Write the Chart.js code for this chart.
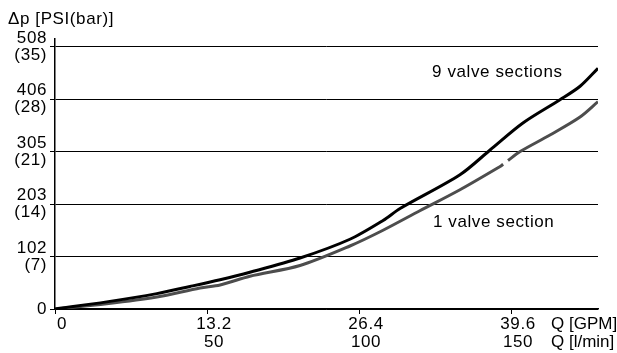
<!DOCTYPE html>
<html lang="en">
<head>
    <meta charset="UTF-8">
    <title>Pressure drop vs flow</title>
    <script src="https://cdn.jsdelivr.net/npm/chart.js@4.4.1/dist/chart.umd.min.js"></script>
</head>
<style>
    body { margin: 0; background: #fff; }
    #wrap { width: 617px; height: 353px; position: relative; }
</style>
<body>
    <div id="wrap"><canvas id="chart"></canvas></div>
</body>
<script>
    // flow in l/min, pressure drop in bar
    const nineQ   = [0, 17, 33.5, 44.4, 54.3, 64.1, 80.6, 97, 107.9, 113.5, 133.2, 143.1, 153.9, 166.1, 172.7, 178.6];
    const nineBar = [0, 0.95, 2.05, 3.0, 3.9, 4.9, 6.8, 9.3, 11.8, 13.4, 17.9, 21.2, 24.8, 27.9, 29.7, 32.1];

    // the 1-section curve has a small break near 148 l/min (null = gap)
    const oneQ   = [0, 17, 33.5, 47.7, 54.3, 64.1, 80.6, 97, 107.9, 120, 133.2, 146.4, 147.4, 148, 149, 153, 162.8, 172.7, 178.6];
    const oneBar = [0, 0.7, 1.6, 2.8, 3.2, 4.37, 5.8, 8.4, 10.5, 13.1, 15.9, 19.0, 19.3, null, 19.8, 21.0, 23.2, 25.6, 27.65];

    const yTicks = [0, 7, 14, 21, 28, 35];
    const psiLabels = ['0', '102', '203', '305', '406', '508'];
    const barLabels = ['', '(7)', '(14)', '(21)', '(28)', '(35)'];

    const xTicks = [0, 50, 100, 150];
    const gpmLabels = ['0', '13.2', '26.4', '39.6'];
    const lpmLabels = ['', '50', '100', '150'];

    const FAMILY = '"Liberation Sans", Arial, sans-serif';
    const FONT = '17px ' + FAMILY;

    const toXY = (xs, ys) => xs.map((x, i) => ({ x: x, y: ys[i] }));

    // extra texts: axis title, units, curve names
    const textPlugin = {
        id: 'texts',
        beforeDraw(chart) {
            chart.ctx.letterSpacing = '0.6px';
        },
        afterDraw(chart) {
            const c = chart.ctx;
            const sx = chart.scales.x, sy = chart.scales.y;
            c.save();
            c.font = FONT;
            c.fillStyle = '#000';
            c.textBaseline = 'middle';
            c.textAlign = 'left';
            c.letterSpacing = '0.6px';
            c.fillText('\u0394p [PSI(bar)]', 8, 19.5);
            c.fillText('9 valve sections', sx.getPixelForValue(124), sy.getPixelForValue(31.6));
            c.fillText('1 valve section', sx.getPixelForValue(124.3), sy.getPixelForValue(11.6));
            c.letterSpacing = '0px';
            c.fillText('Q [GPM]', 551, 324.5);
            c.fillText('Q [l/min]', 551, 342.5);
            c.restore();
        }
    };

    new Chart(document.getElementById('chart'), {
        type: 'line',
        data: {
            datasets: [
                {
                    label: '9 valve sections',
                    data: toXY(nineQ, nineBar),
                    borderColor: '#000',
                    borderWidth: 3,
                    pointRadius: 0,
                    tension: 0.3
                },
                {
                    label: '1 valve section',
                    data: toXY(oneQ, oneBar),
                    borderColor: '#4d4d4d',
                    borderWidth: 3,
                    pointRadius: 0,
                    spanGaps: false,
                    tension: 0.3
                }
            ]
        },
        options: {
            responsive: true,
            maintainAspectRatio: false,
            animation: false,
            layout: { padding: { top: 39, right: 19, left: 0, bottom: 0 } },
            plugins: { legend: { display: false }, tooltip: { enabled: false } },
            scales: {
                x: {
                    type: 'linear',
                    min: 0,
                    max: 178.6,
                    afterBuildTicks: s => { s.ticks = xTicks.map(v => ({ value: v })); },
                    afterFit: s => { s.height = 44; },
                    border: { color: '#000', width: 1.5 },
                    grid: { drawOnChartArea: false, color: '#000', tickLength: 5 },
                    ticks: {
                        color: '#000',
                        font: { family: FAMILY, size: 17, lineHeight: 1.06 },
                        maxRotation: 0,
                        padding: 1,
                        labelOffset: 7,
                        callback: (v, i) => lpmLabels[i] ? [gpmLabels[i], lpmLabels[i]] : gpmLabels[i]
                    }
                },
                y: {
                    min: 0,
                    max: 36,
                    afterBuildTicks: s => { s.ticks = yTicks.map(v => ({ value: v })); },
                    afterFit: s => { s.width = 55; },
                    border: { color: '#000', width: 1.5 },
                    grid: { color: '#000', lineWidth: 1, tickLength: 5 },
                    ticks: {
                        color: '#000',
                        font: { family: FAMILY, size: 17, lineHeight: 1.0 },
                        padding: 3,
                        callback: (v, i) => barLabels[i] ? [psiLabels[i], barLabels[i]] : psiLabels[i]
                    }
                }
            }
        },
        plugins: [textPlugin]
    });
</script>
</html>
